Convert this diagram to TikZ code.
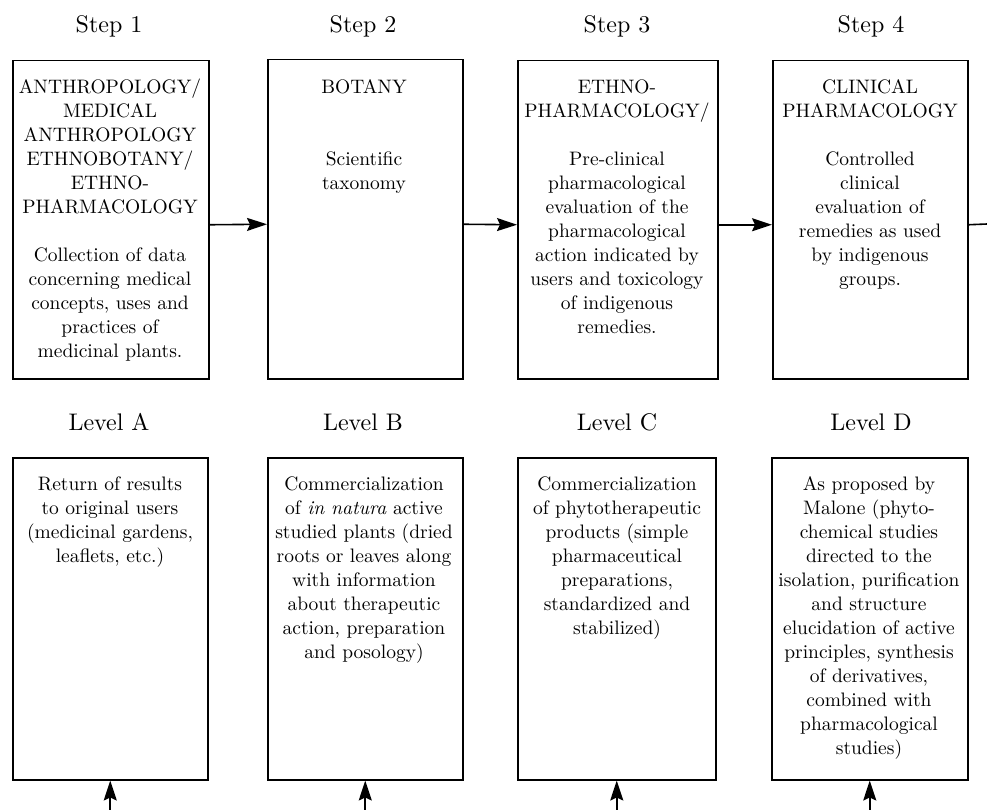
\documentclass[tikz,border=0pt]{standalone}
\usepackage{fontspec}
\setmainfont{lmroman10-regular.otf}[ItalicFont=lmroman10-italic.otf]
\usetikzlibrary{arrows.meta}
\begin{document}
\begin{tikzpicture}[x=1pt,y=-1pt,
  box/.style={draw,line width=1.5pt,inner sep=0pt,anchor=north west},
  body/.style={anchor=north,inner sep=0pt,align=center,font=\fontsize{19.5}{24}\selectfont},
  head/.style={anchor=base,inner sep=0pt,font=\fontsize{24}{28}\selectfont},
  arr/.style={line width=1.6pt,-{Stealth[length=20pt,width=13pt,inset=3pt]}},
  plain/.style={line width=1.6pt}]
\useasboundingbox (0,0) rectangle (987,810);

% headings
\node[head] (h1) at (109,33) {Step 1};
\node[head] (h2) at (363,33) {Step 2};
\node[head] (h3) at (617,33) {Step 3};
\node[head] (h4) at (871,33) {Step 4};
\node[head] (l1) at (109,430) {Level A};
\node[head] (l2) at (363,430) {Level B};
\node[head] (l3) at (617,430) {Level C};
\node[head] (l4) at (871,430) {Level D};

% top boxes
\node[box,minimum width=196pt,minimum height=318pt] (s1) at (12,60) {};
\node[box,minimum width=195pt,minimum height=319pt] (s2) at (267,59) {};
\node[box,minimum width=200pt,minimum height=318pt] (s3) at (517,60) {};
\node[box,minimum width=195pt,minimum height=318pt] (s4) at (772,60) {};

% bottom boxes
\node[box,minimum width=195pt,minimum height=322pt] (a) at (12,457) {};
\node[box,minimum width=195pt,minimum height=322pt] (b) at (267,457) {};
\node[box,minimum width=198pt,minimum height=322pt] (c) at (517,457) {};
\node[box,minimum width=196pt,minimum height=322pt] (d) at (771,457) {};

% top texts
\node[body] (t1) at (110,76.2) {\strut ANTHROPOLOGY/\\MEDICAL\\ANTHROPOLOGY\\ETHNOBOTANY/\\ETHNO-\\PHARMACOLOGY\\[24pt]Collection of data\\concerning medical\\concepts, uses and\\practices of\\medicinal plants.};
\node[body] (t2) at (364,76.2) {\strut BOTANY\\[48pt]Scientific\\taxonomy};
\node[body] (t3) at (617,76.2) {\strut ETHNO-\\PHARMACOLOGY/\\[24pt]Pre-clinical\\pharmacological\\evaluation of the\\pharmacological\\action indicated by\\users and toxicology\\of indigenous\\remedies.};
\node[body] (t4) at (870,76.2) {\strut CLINICAL\\PHARMACOLOGY\\[24pt]Controlled\\clinical\\evaluation of\\remedies as used\\by indigenous\\groups.};

% bottom texts
\node[body] (ta) at (110,473.2) {\strut Return of results\\to original users\\(medicinal gardens,\\leaflets, etc.)};
\node[body] (tb) at (364,473.2) {\strut Commercialization\\of \textit{in natura} active\\studied plants (dried\\roots or leaves along\\with information\\about therapeutic\\action, preparation\\and posology)};
\node[body] (tc) at (617,473.2) {\strut Commercialization\\of phytotherapeutic\\products (simple\\pharmaceutical\\preparations,\\standardized and\\stabilized)};
\node[body] (td) at (869,473.2) {\strut As proposed by\\Malone (phyto-\\chemical studies\\directed to the\\isolation, purification\\and structure\\elucidation of active\\principles, synthesis\\of derivatives,\\combined with\\pharmacological\\studies)};

% horizontal arrows
\coordinate (out) at (987,224);
\draw[arr] ([yshift=-5pt]s1.east) -- ([yshift=-5pt]s2.west);
\draw[arr] ([yshift=-5pt]s2.east) -- ([yshift=-5pt]s3.west);
\draw[arr] ([yshift=-5pt]s3.east) -- ([yshift=-5pt]s4.west);
\draw[plain] ([yshift=-5pt]s4.east) -- (out);

% vertical arrows from below
\coordinate (bot) at (0,810);
\draw[arr] (a.south |- bot) -- (a.south);
\draw[arr] (b.south |- bot) -- (b.south);
\draw[arr] (c.south |- bot) -- (c.south);
\draw[arr] (d.south |- bot) -- (d.south);
\end{tikzpicture}
\end{document}
